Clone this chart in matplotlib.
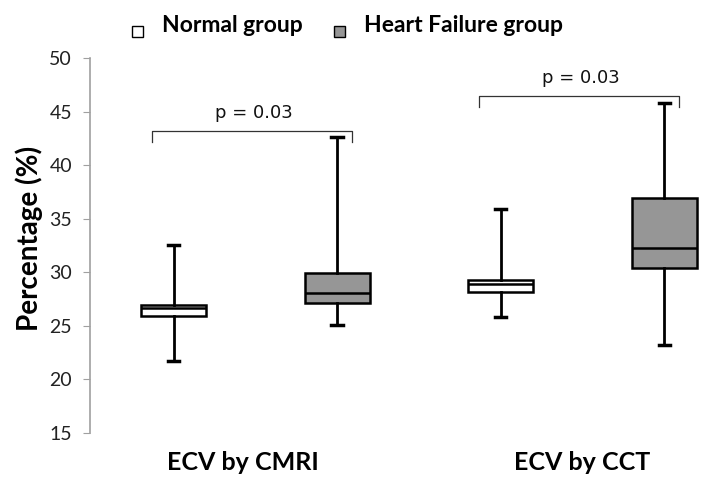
import matplotlib
matplotlib.use("Agg")
import matplotlib.pyplot as plt
from matplotlib.patches import Rectangle

plt.rcParams['font.family'] = ['Lato', 'DejaVu Sans']

# data
categories = ["ECV by CMRI", "ECV by CCT"]
groups = ["Normal group", "Heart Failure group"]
group_colors = ["white", "#969696"]

# per box: [normal CMRI, HF CMRI, normal CCT, HF CCT]
whisker_low = [21.7, 25.05, 25.8, 23.2]
q1 = [25.9, 27.1, 28.2, 30.4]
median = [26.7, 28.1, 28.9, 32.3]
q3 = [26.95, 29.9, 29.3, 36.9]
whisker_high = [32.55, 42.6, 35.9, 45.8]

p_labels = ["p = 0.03", "p = 0.03"]
bracket_y = [43.2, 46.45]

W, H = 714, 488
fig = plt.figure(figsize=(W / 100, H / 100), dpi=100)
ax = fig.add_axes([0.126, 0.1127, 0.874, 0.7684])

offset = 0.25
positions = []
for i in range(len(categories)):
    positions += [i + 1 - offset, i + 1 + offset]

stats = []
for k in range(len(positions)):
    stats.append({
        "whislo": whisker_low[k], "q1": q1[k], "med": median[k],
        "q3": q3[k], "whishi": whisker_high[k], "fliers": [],
    })

bp = ax.bxp(stats, positions=positions, widths=0.2, patch_artist=True,
            showfliers=False,
            boxprops=dict(linewidth=1.8, edgecolor="black"),
            medianprops=dict(color="black", linewidth=1.8),
            whiskerprops=dict(color="black", linewidth=2),
            capprops=dict(color="black", linewidth=2.5),
            capwidths=0.035)
for k, box in enumerate(bp["boxes"]):
    box.set_facecolor(group_colors[k % 2])

# significance brackets
for i in range(len(categories)):
    x0 = i + 1 - offset - 0.065
    x1 = i + 1 + offset + 0.045
    y = bracket_y[i]
    ax.plot([x0, x0, x1, x1], [y - 1.0, y, y, y - 1.0], color="#333333",
            linewidth=0.9, clip_on=False)
    ax.text((x0 + x1) / 2 + 0.005, y + 1.2, p_labels[i], ha="center",
            va="baseline", fontsize=13, family="DejaVu Sans", color="#111111")

ax.set_ylim(15, 50)
ax.set_yticks(range(15, 51, 5))
ax.set_xlim(0.494, 2.402)
ax.set_xticks([0.963, 2.0])
ax.set_xticklabels(categories, fontsize=18, fontweight="bold")
ax.tick_params(axis="x", length=0, pad=13)
ax.tick_params(axis="y", labelsize=14, color="#a0a0a0", length=5,
               labelcolor="#222222", pad=8)
for s in ["top", "right", "bottom"]:
    ax.spines[s].set_visible(False)
ax.spines["left"].set_color("#a0a0a0")
ax.spines["left"].set_linewidth(1.2)
ax.set_ylabel("Percentage (%)", fontsize=20, fontweight="bold")
ax.yaxis.set_label_coords(-0.075, 0.52)

# legend drawn by hand: small squares sitting low next to bold labels
legend_x = [132, 334]   # px from left
text_x = [162, 364]
for j in range(len(groups)):
    fig.patches.append(Rectangle((legend_x[j] / W, 1 - 37 / H), 11 / W, 11 / H,
                                 facecolor=group_colors[j], edgecolor="black",
                                 linewidth=1, transform=fig.transFigure))
    fig.text(text_x[j] / W, 1 - 32 / H, groups[j], fontsize=16.5,
             fontweight="bold", va="baseline", ha="left")

fig.savefig("out.png", dpi=100)
